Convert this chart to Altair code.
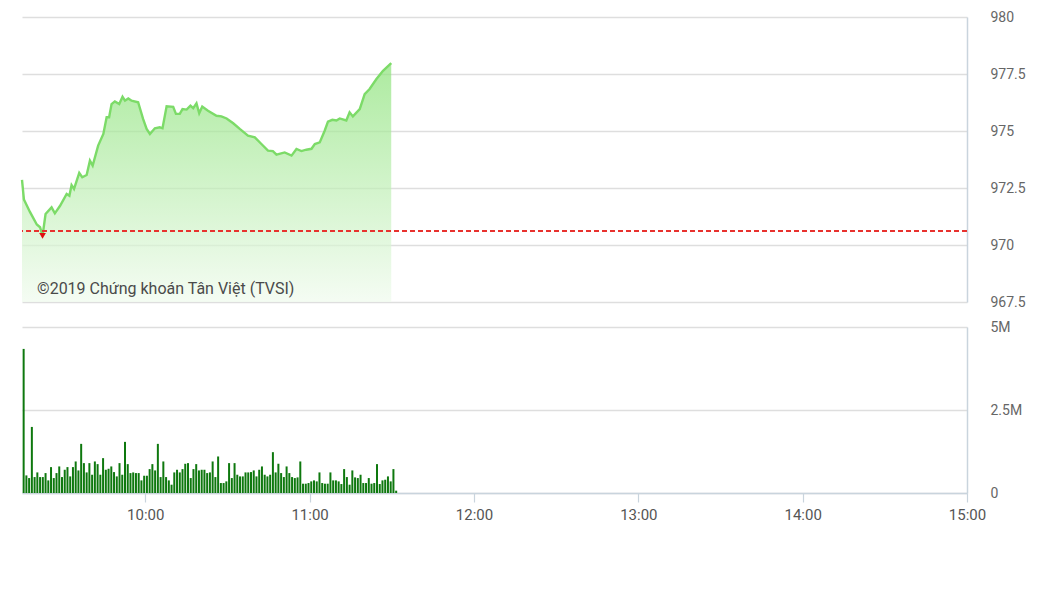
import altair as alt
import pandas as pd

# ---- data ----
# price: minutes after 09:15, index value
price_min = [0, 0.7, 2.9, 5.4, 6.6, 7.5, 8.6, 10.8, 12.0, 13.9, 16.3, 17.3, 18.1, 19.0,
             20.9, 22.0, 23.6, 24.8, 25.8, 27.8, 29.7, 30.9, 31.8, 32.7, 33.9, 35.5,
             36.7, 37.6, 38.8, 40.0, 42.4, 44.2, 45.5, 46.7, 48.5, 50.3, 51.3, 52.8,
             55.2, 56.2, 57.6, 58.6, 60.1, 61.5, 62.5, 63.7, 64.7, 65.8, 67.9, 71.0,
             72.8, 74.7, 77.1, 79.5, 82.5, 85.0, 87.4, 89.8, 91.6, 92.9, 95.9, 98.4,
             100.2, 102.0, 103.8, 105.7, 106.9, 108.7, 110.5, 111.7, 113.3, 114.8,
             116.0, 118.4, 119.6, 120.8, 123.3, 125.1, 126.9, 129.4, 131.8, 134.8]
price_val = [972.86, 972.0, 971.45, 970.9, 970.78, 970.4, 971.36, 971.65, 971.39, 971.72,
             972.24, 972.16, 972.63, 972.46, 973.16, 972.97, 973.07, 973.7, 973.48,
             974.36, 974.87, 975.6, 975.6, 976.18, 976.3, 976.18, 976.5, 976.33, 976.43,
             976.33, 976.26, 975.53, 975.09, 974.87, 975.12, 975.16, 975.12, 976.08,
             976.06, 975.75, 975.75, 975.96, 975.94, 976.11, 976.0, 976.21, 975.78,
             976.07, 975.89, 975.67, 975.64, 975.55, 975.34, 975.09, 974.8, 974.72,
             974.43, 974.14, 974.12, 973.96, 974.06, 973.92, 974.21, 974.12, 974.18,
             974.22, 974.43, 974.5, 975.01, 975.41, 975.49, 975.46, 975.55, 975.46,
             975.82, 975.64, 975.96, 976.62, 976.84, 977.28, 977.64, 977.98]
ref_price = 970.6
low_min = 7.5
low_val = 970.4

# volume per minute (millions)
volume = [4.34, 0.53, 0.45, 1.99, 0.48, 0.62, 0.48, 0.48, 0.60, 0.38,
          0.78, 0.45, 0.60, 0.80, 0.48, 0.70, 0.78, 0.50, 0.78, 0.95,
          0.68, 1.48, 0.90, 0.62, 0.90, 0.55, 0.95, 0.87, 0.55, 1.05,
          0.70, 0.73, 0.80, 0.63, 0.50, 0.90, 0.55, 1.54, 0.87, 0.60,
          0.62, 0.60, 0.60, 0.38, 0.52, 0.52, 0.72, 0.87, 0.68, 1.48,
          0.48, 0.95, 0.48, 0.38, 0.25, 0.62, 0.70, 0.62, 0.72, 0.88,
          0.90, 0.45, 0.72, 0.87, 0.68, 0.70, 0.70, 0.60, 0.62, 0.95,
          0.48, 1.10, 0.30, 0.30, 0.35, 0.90, 0.45, 0.90, 0.55, 0.50,
          0.50, 0.62, 0.62, 0.63, 0.68, 0.50, 0.70, 0.80, 0.55, 0.50,
          0.55, 1.23, 0.62, 0.88, 0.60, 0.48, 0.80, 0.60, 0.48, 0.45,
          0.47, 0.95, 0.28, 0.28, 0.30, 0.35, 0.38, 0.35, 0.62, 0.30,
          0.28, 0.28, 0.62, 0.38, 0.38, 0.35, 0.27, 0.72, 0.48, 0.25,
          0.68, 0.47, 0.45, 0.55, 0.30, 0.30, 0.45, 0.28, 0.30, 0.87,
          0.27, 0.38, 0.40, 0.50, 0.35, 0.72, 0.07]

x_ticks = [600, 660, 720, 780, 840, 900]
price_ticks = [967.5, 970, 972.5, 975, 977.5, 980]
vol_ticks = [0, 2.5, 5]
credit = "©2019 Chứng khoán Tân Việt (TVSI)"

start = 555  # 09:15 in minutes
price_df = pd.DataFrame({"t": [start + m for m in price_min], "p": price_val})
vol_df = pd.DataFrame({"t": [start + 0.6 + i for i in range(len(volume))], "v": volume})
low_df = pd.DataFrame({"t": [start + low_min], "p": [low_val]})
text_df = pd.DataFrame({"t": [start + 5.5], "p": [968.07], "s": [credit]})

FONT = "Roboto"
xscale = alt.Scale(domain=[555, 900], nice=False, zero=False, padding=0)
pscale = alt.Scale(domain=[967.5, 980], nice=False, zero=False)

grid_c = "#dedede"
dom_c = "#c9d4dd"

p_axis = alt.Axis(orient="right", values=price_ticks, format=".1~f", ticks=False,
                  grid=True, gridColor=grid_c, gridWidth=1.5, domain=True,
                  domainColor=dom_c, domainWidth=1.5, labelPadding=23,
                  labelFont=FONT, labelFontSize=14, labelColor="#666666", title=None)

gradient = alt.Gradient(
    gradient="linear",
    stops=[alt.GradientStop(color="#8ae277", offset=0),
           alt.GradientStop(color="#f0fbee", offset=1)],
    x1=1, x2=1, y1=0, y2=1)

area = alt.Chart(price_df).mark_area(
    fill=gradient,
    line={"color": "#7cdb68", "strokeWidth": 2.4},
).encode(
    x=alt.X("t:Q", scale=xscale, axis=None),
    y=alt.Y("p:Q", scale=pscale, axis=p_axis),
    y2=alt.datum(967.5),
)

ref = alt.Chart(price_df).mark_rule(color="#e8322e", strokeDash=[5, 3], strokeWidth=1.5).encode(
    y=alt.datum(ref_price)
)

low = alt.Chart(low_df).mark_point(shape="triangle-down", filled=True, color="#e01010",
                                     size=45, opacity=1).encode(
    x=alt.X("t:Q", scale=xscale), y=alt.Y("p:Q", scale=pscale)
)

txt = alt.Chart(text_df).mark_text(align="left", baseline="middle", font=FONT, fontSize=16,
                                   color="#4a4a4a").encode(
    x=alt.X("t:Q", scale=xscale), y=alt.Y("p:Q", scale=pscale), text="s:N"
)

top = alt.layer(area, ref, low, txt).properties(width=945, height=285)

v_axis = alt.Axis(orient="right", values=vol_ticks, ticks=False, grid=True,
                  gridColor=grid_c, gridWidth=1.5, domain=True, domainColor=dom_c,
                  domainWidth=1.5, labelPadding=23,
                  labelExpr="datum.value == 0 ? '0' : datum.value + 'M'",
                  labelFont=FONT, labelFontSize=14, labelColor="#666666", title=None)

x_axis = alt.Axis(values=x_ticks, labelExpr="floor(datum.value / 60) + ':00'",
                  grid=False, domainColor=dom_c, domainWidth=1.5, tickColor=dom_c,
                  tickSize=9, tickWidth=1.2, labelPadding=5, labelFont=FONT,
                  labelFontSize=15, labelColor="#555555", title=None,
                  labelFlush=False)

bars = alt.Chart(vol_df).mark_bar(color="#0e780e", size=2).encode(
    x=alt.X("t:Q", scale=xscale, axis=x_axis),
    y=alt.Y("v:Q", scale=alt.Scale(domain=[0, 5], nice=False), axis=v_axis),
)

bottom = bars.properties(width=945, height=166)

chart = alt.vconcat(top, bottom, spacing=11).properties(
    padding={"left": 9, "top": 2, "right": 5, "bottom": 5},
    background="white",
).configure_view(strokeWidth=0)

chart.save("out.html", embed_options={"renderer": "svg", "actions": False})
